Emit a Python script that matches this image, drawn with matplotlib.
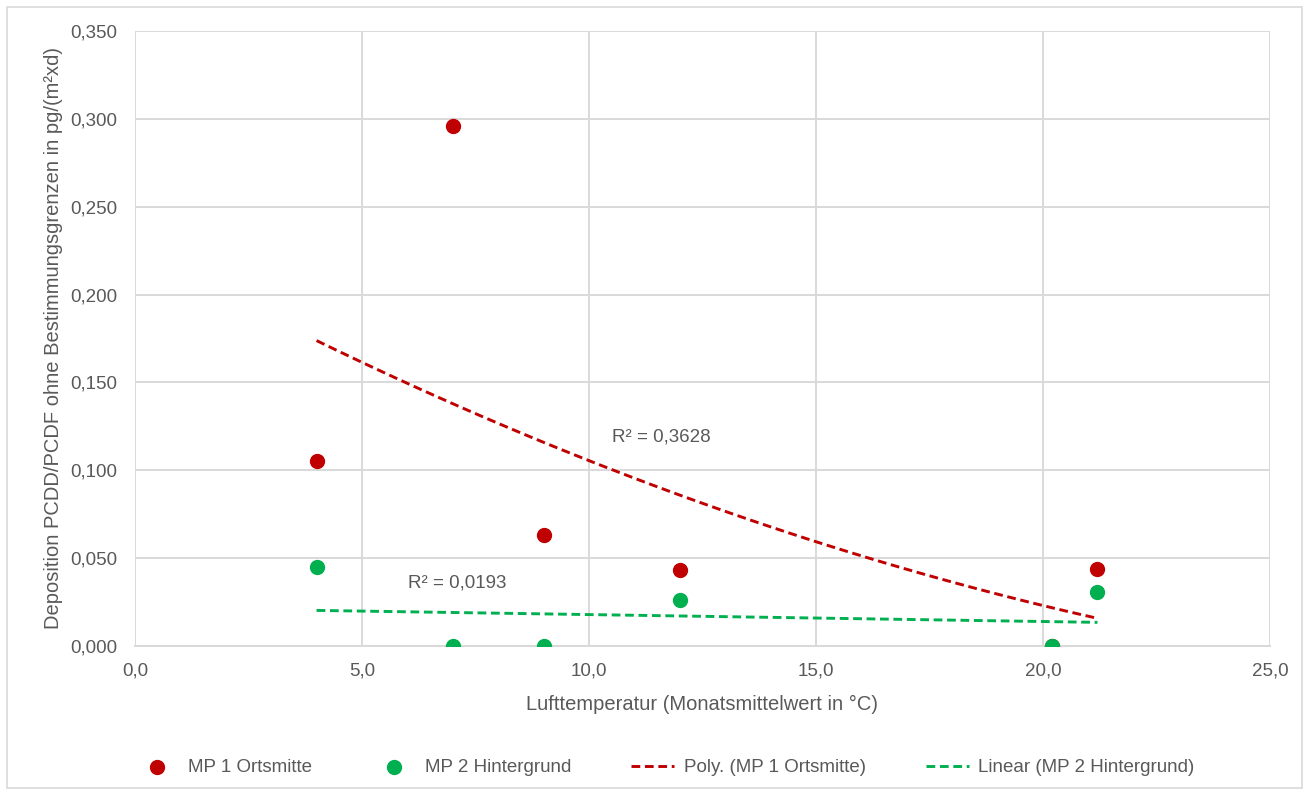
import matplotlib
matplotlib.use('Agg')
import matplotlib.pyplot as plt
from matplotlib.patches import Rectangle
from matplotlib.ticker import FuncFormatter, MultipleLocator
import numpy as np

plt.rcParams['font.family'] = ['Liberation Sans Narrow', 'Liberation Sans', 'DejaVu Sans']

# ── Data ─────────────────────────────────────────────────────────────────────
mp1_temp = [4.0, 7.0, 9.0, 12.0, 20.2, 21.2]
mp1_dep = [0.105, 0.296, 0.063, 0.043, 0.0, 0.044]
mp2_temp = [4.0, 7.0, 9.0, 12.0, 20.2, 21.2]
mp2_dep = [0.045, 0.0, 0.0, 0.026, 0.0, 0.031]

RED = '#C00000'
GRN = '#00B050'
TXT = '#595959'
GRID = '#D9D9D9'

fig = plt.figure(figsize=(13.09, 7.94), dpi=100)
ax = fig.add_axes([0.1031, 0.1864, 0.8671, 0.7746])

# trendlines (Excel: poly order 2 for MP1, linear for MP2)
c1 = np.polyfit(mp1_temp, mp1_dep, 2)
c2 = np.polyfit(mp2_temp, mp2_dep, 1)
xs = np.linspace(min(mp1_temp), max(mp1_temp), 100)
ax.plot(xs, np.polyval(c1, xs), color=RED, lw=2.1, ls=(0, (3, 1.6)), zorder=2,
        label='Poly. (MP 1 Ortsmitte)')
ax.plot(xs, np.polyval(c2, xs), color=GRN, lw=2.1, ls=(0, (3, 1.6)), zorder=2,
        label='Linear (MP 2 Hintergrund)')

ax.scatter(mp1_temp, mp1_dep, s=100, color=RED, zorder=3, label='MP 1 Ortsmitte')
ax.scatter(mp2_temp, mp2_dep, s=100, color=GRN, zorder=4, label='MP 2 Hintergrund')

ax.text(11.6, 0.119, 'R² = 0,3628', ha='center', va='center', fontsize=13.5, color=TXT)
ax.text(7.1, 0.036, 'R² = 0,0193', ha='center', va='center', fontsize=13.5, color=TXT)

ax.set_xlim(0, 25)
ax.set_ylim(0, 0.35)
ax.xaxis.set_major_locator(MultipleLocator(5))
ax.yaxis.set_major_locator(MultipleLocator(0.05))
ax.xaxis.set_major_formatter(FuncFormatter(lambda v, p: f'{v:.1f}'.replace('.', ',')))
ax.yaxis.set_major_formatter(FuncFormatter(lambda v, p: f'{v:.3f}'.replace('.', ',')))
ax.grid(True, color=GRID, lw=1.4)
ax.set_axisbelow(True)
for s in ['top', 'right', 'left']:
    ax.spines[s].set_visible(False)
ax.spines['bottom'].set_color(GRID)
ax.spines['bottom'].set_linewidth(1.4)
ax.tick_params(length=0, labelsize=13.5, labelcolor=TXT)
ax.tick_params(axis='x', pad=12)
ax.tick_params(axis='y', pad=13)

ax.set_xlabel('Lufttemperatur (Monatsmittelwert in °C)', fontsize=14.5, color=TXT, labelpad=11)
ax.set_ylabel('Deposition PCDD/PCDF ohne Bestimmungsgrenzen in pg/(m²xd)', fontsize=14.5,
              color=TXT, labelpad=5)

handles, labels = ax.get_legend_handles_labels()
order = [2, 3, 0, 1]
fig.legend([handles[i] for i in order], [labels[i] for i in order],
           loc='center', bbox_to_anchor=(0.508, 0.033), ncol=4, frameon=False,
           fontsize=13.5, labelcolor=TXT, columnspacing=3.2, handlelength=2.3,
           handletextpad=0.5, scatterpoints=1)

fig.patches.append(Rectangle((0.005, 0.008), 0.99, 0.983, transform=fig.transFigure,
                             fill=False, edgecolor=GRID, lw=1.2))

fig.savefig('out.png', dpi=100)
